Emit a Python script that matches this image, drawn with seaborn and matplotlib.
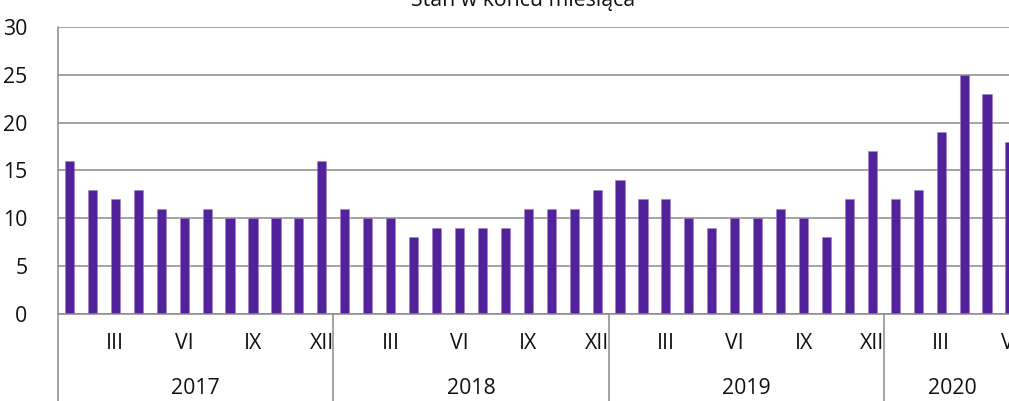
import matplotlib
matplotlib.use("Agg")
import matplotlib.pyplot as plt
import seaborn as sns
import pandas as pd

years = ["2017", "2018", "2019", "2020"]
months_per_year = [12, 12, 12, 6]
month_names = ["I", "II", "III", "IV", "V", "VI", "VII", "VIII", "IX", "X", "XI", "XII"]
shown_months = ["III", "VI", "IX", "XII"]
v2017 = [16, 13, 12, 13, 11, 10, 11, 10, 10, 10, 10, 16]
v2018 = [11, 10, 10, 8, 9, 9, 9, 9, 11, 11, 11, 13]
v2019 = [14, 12, 12, 10, 9, 10, 10, 11, 10, 8, 12, 17]
v2020 = [12, 13, 19, 25, 23, 18]
title = "Stan w końcu miesiąca"
yticks = [0, 5, 10, 15, 20, 25, 30]

values = v2017 + v2018 + v2019 + v2020
keys, mlabels = [], []
for y, n in zip(years, months_per_year):
    for m in range(n):
        keys.append(f"{y}-{m+1}")
        mlabels.append(month_names[m])
df = pd.DataFrame({"key": keys, "value": values})

sns.set_theme(style="white")
plt.rcParams["font.family"] = ["Open Sans", "DejaVu Sans"]

W, H = 1009, 401
fig = plt.figure(figsize=(W / 100, H / 100), dpi=100)
n = len(values)
slot = 22.94
left_px, top_px, bot_px = 58, 27, 314
ax = fig.add_axes([left_px / W, (H - bot_px) / H, n * slot / W, (bot_px - top_px) / H])

color = "#52229A"
grey = "#8a8a8a"
fs = 15.3
txtc = "#111111"
sns.barplot(data=df, x="key", y="value", order=keys, color=color, width=0.4,
            saturation=1, ax=ax, edgecolor="#9c7fc8", linewidth=0.4)
ax.set_xlim(-0.5, n - 0.5)
ax.set_ylim(0, 30)
ax.set_yticks(yticks)
ax.set_yticklabels([str(t) for t in yticks], fontsize=fs, color=txtc)
ax.tick_params(axis="y", length=0, pad=22)
ax.yaxis.grid(True, color=grey, linewidth=1.1)
ax.set_axisbelow(True)
ax.set_xlabel("")
ax.set_ylabel("")

tpos = [i for i, l in enumerate(mlabels) if l in shown_months]
ax.set_xticks(tpos)
ax.set_xticklabels([mlabels[i] for i in tpos], fontsize=fs, color=txtc)
ax.tick_params(axis="x", length=0, pad=14)

for s in ["top", "right"]:
    ax.spines[s].set_visible(False)
ax.spines["bottom"].set_color(grey)
ax.spines["bottom"].set_linewidth(1.1)
ax.spines["left"].set_visible(False)

xt = ax.get_xaxis_transform()
ybot = -(H - bot_px) / (bot_px - top_px) - 0.01
ax.plot([-0.5, -0.5], [ybot, 1], transform=xt, color=grey, lw=1.1, clip_on=False)
start = 0
for y, cnt in zip(years, months_per_year):
    if start > 0:
        ax.plot([start - 0.5, start - 0.5], [ybot, 0], transform=xt, color=grey, lw=1.1, clip_on=False)
    center = start + (6 if cnt == 12 else 3) - 0.5
    ax.text(center, -(389 - bot_px) / (bot_px - top_px), y, transform=xt,
            ha="center", va="center", fontsize=fs, color=txtc)
    start += cnt

fig.text(523 / W, 1 - 6 / H, title, ha="center", va="baseline", fontsize=fs, color=txtc)

fig.savefig("out.png", dpi=100)
